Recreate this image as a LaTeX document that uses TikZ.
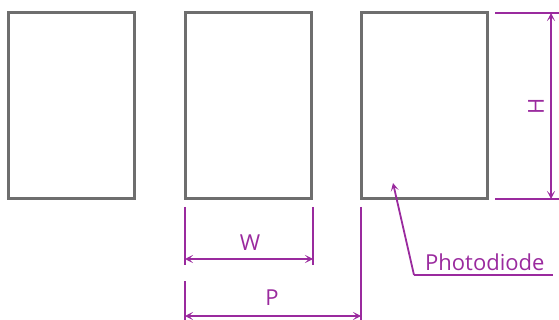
\documentclass[tikz,border=0pt]{standalone}
\usepackage{fontspec}
\setmainfont{Open Sans}
\usetikzlibrary{arrows.meta}
\definecolor{dimpurple}{HTML}{9A2A9E}
\definecolor{pdgray}{HTML}{6E6E6E}

\begin{document}
\begin{tikzpicture}[x=1pt,y=-1pt,>={Stealth[length=8pt,width=8pt,inset=4pt]}]
\tikzset{pixel/.style={draw=pdgray,line width=3pt,outer sep=0pt,inner sep=0pt,
    minimum width=126pt,minimum height=186pt,anchor=north west}}
\tikzset{dimline/.style={draw=dimpurple,line width=1.8pt}}
\tikzset{dimlabel/.style={text=dimpurple,inner sep=0pt,font=\fontsize{22}{26}\selectfont}}
\useasboundingbox (0,0) rectangle (559,320);
\node[pixel] (pd1) at (8,13) {};
\node[pixel] (pd2) at (185,13) {};
\node[pixel] (pd3) at (361,13) {};
% height
\coordinate (h1) at (495,13);
\coordinate (h2) at (559,13);
\coordinate (h3) at (495,199);
\coordinate (h4) at (559,199);
\coordinate (ht) at (551,13);
\coordinate (hb) at (551,199);
\draw[dimline] (h1) -- (h2);
\draw[dimline] (h3) -- (h4);
\draw[dimline,<->] (ht) -- (hb);
\node[dimlabel,rotate=90] (hlab) at (536,106) {H};
% width
\coordinate (w1) at (185,207);
\coordinate (w2) at (185,265);
\coordinate (w3) at (313,207);
\coordinate (w4) at (313,265);
\coordinate (wl) at (185,259);
\coordinate (wr) at (313,259);
\draw[dimline] (w1) -- (w2);
\draw[dimline] (w3) -- (w4);
\draw[dimline,<->] (wl) -- (wr);
\node[dimlabel] (wlab) at (250,243) {W};
% pitch
\coordinate (p1) at (185,281);
\coordinate (p2) at (185,320);
\coordinate (p3) at (361,207);
\coordinate (p4) at (361,320);
\coordinate (pl) at (185,316);
\coordinate (pr) at (361,316);
\draw[dimline] (p1) -- (p2);
\draw[dimline] (p3) -- (p4);
\draw[dimline,<->] (pl) -- (pr);
\node[dimlabel] (plab) at (272,298) {P};
% label
\node[dimlabel,anchor=base west] (pdlab) at (425,270) {Photodiode};
\coordinate (lk) at (414,275);
\coordinate (le) at (553,275);
\coordinate (tip) at (393,183);
\draw[dimline] (lk) -- (le);
\draw[dimline,->] (lk) -- (tip);
\end{tikzpicture}
\end{document}
